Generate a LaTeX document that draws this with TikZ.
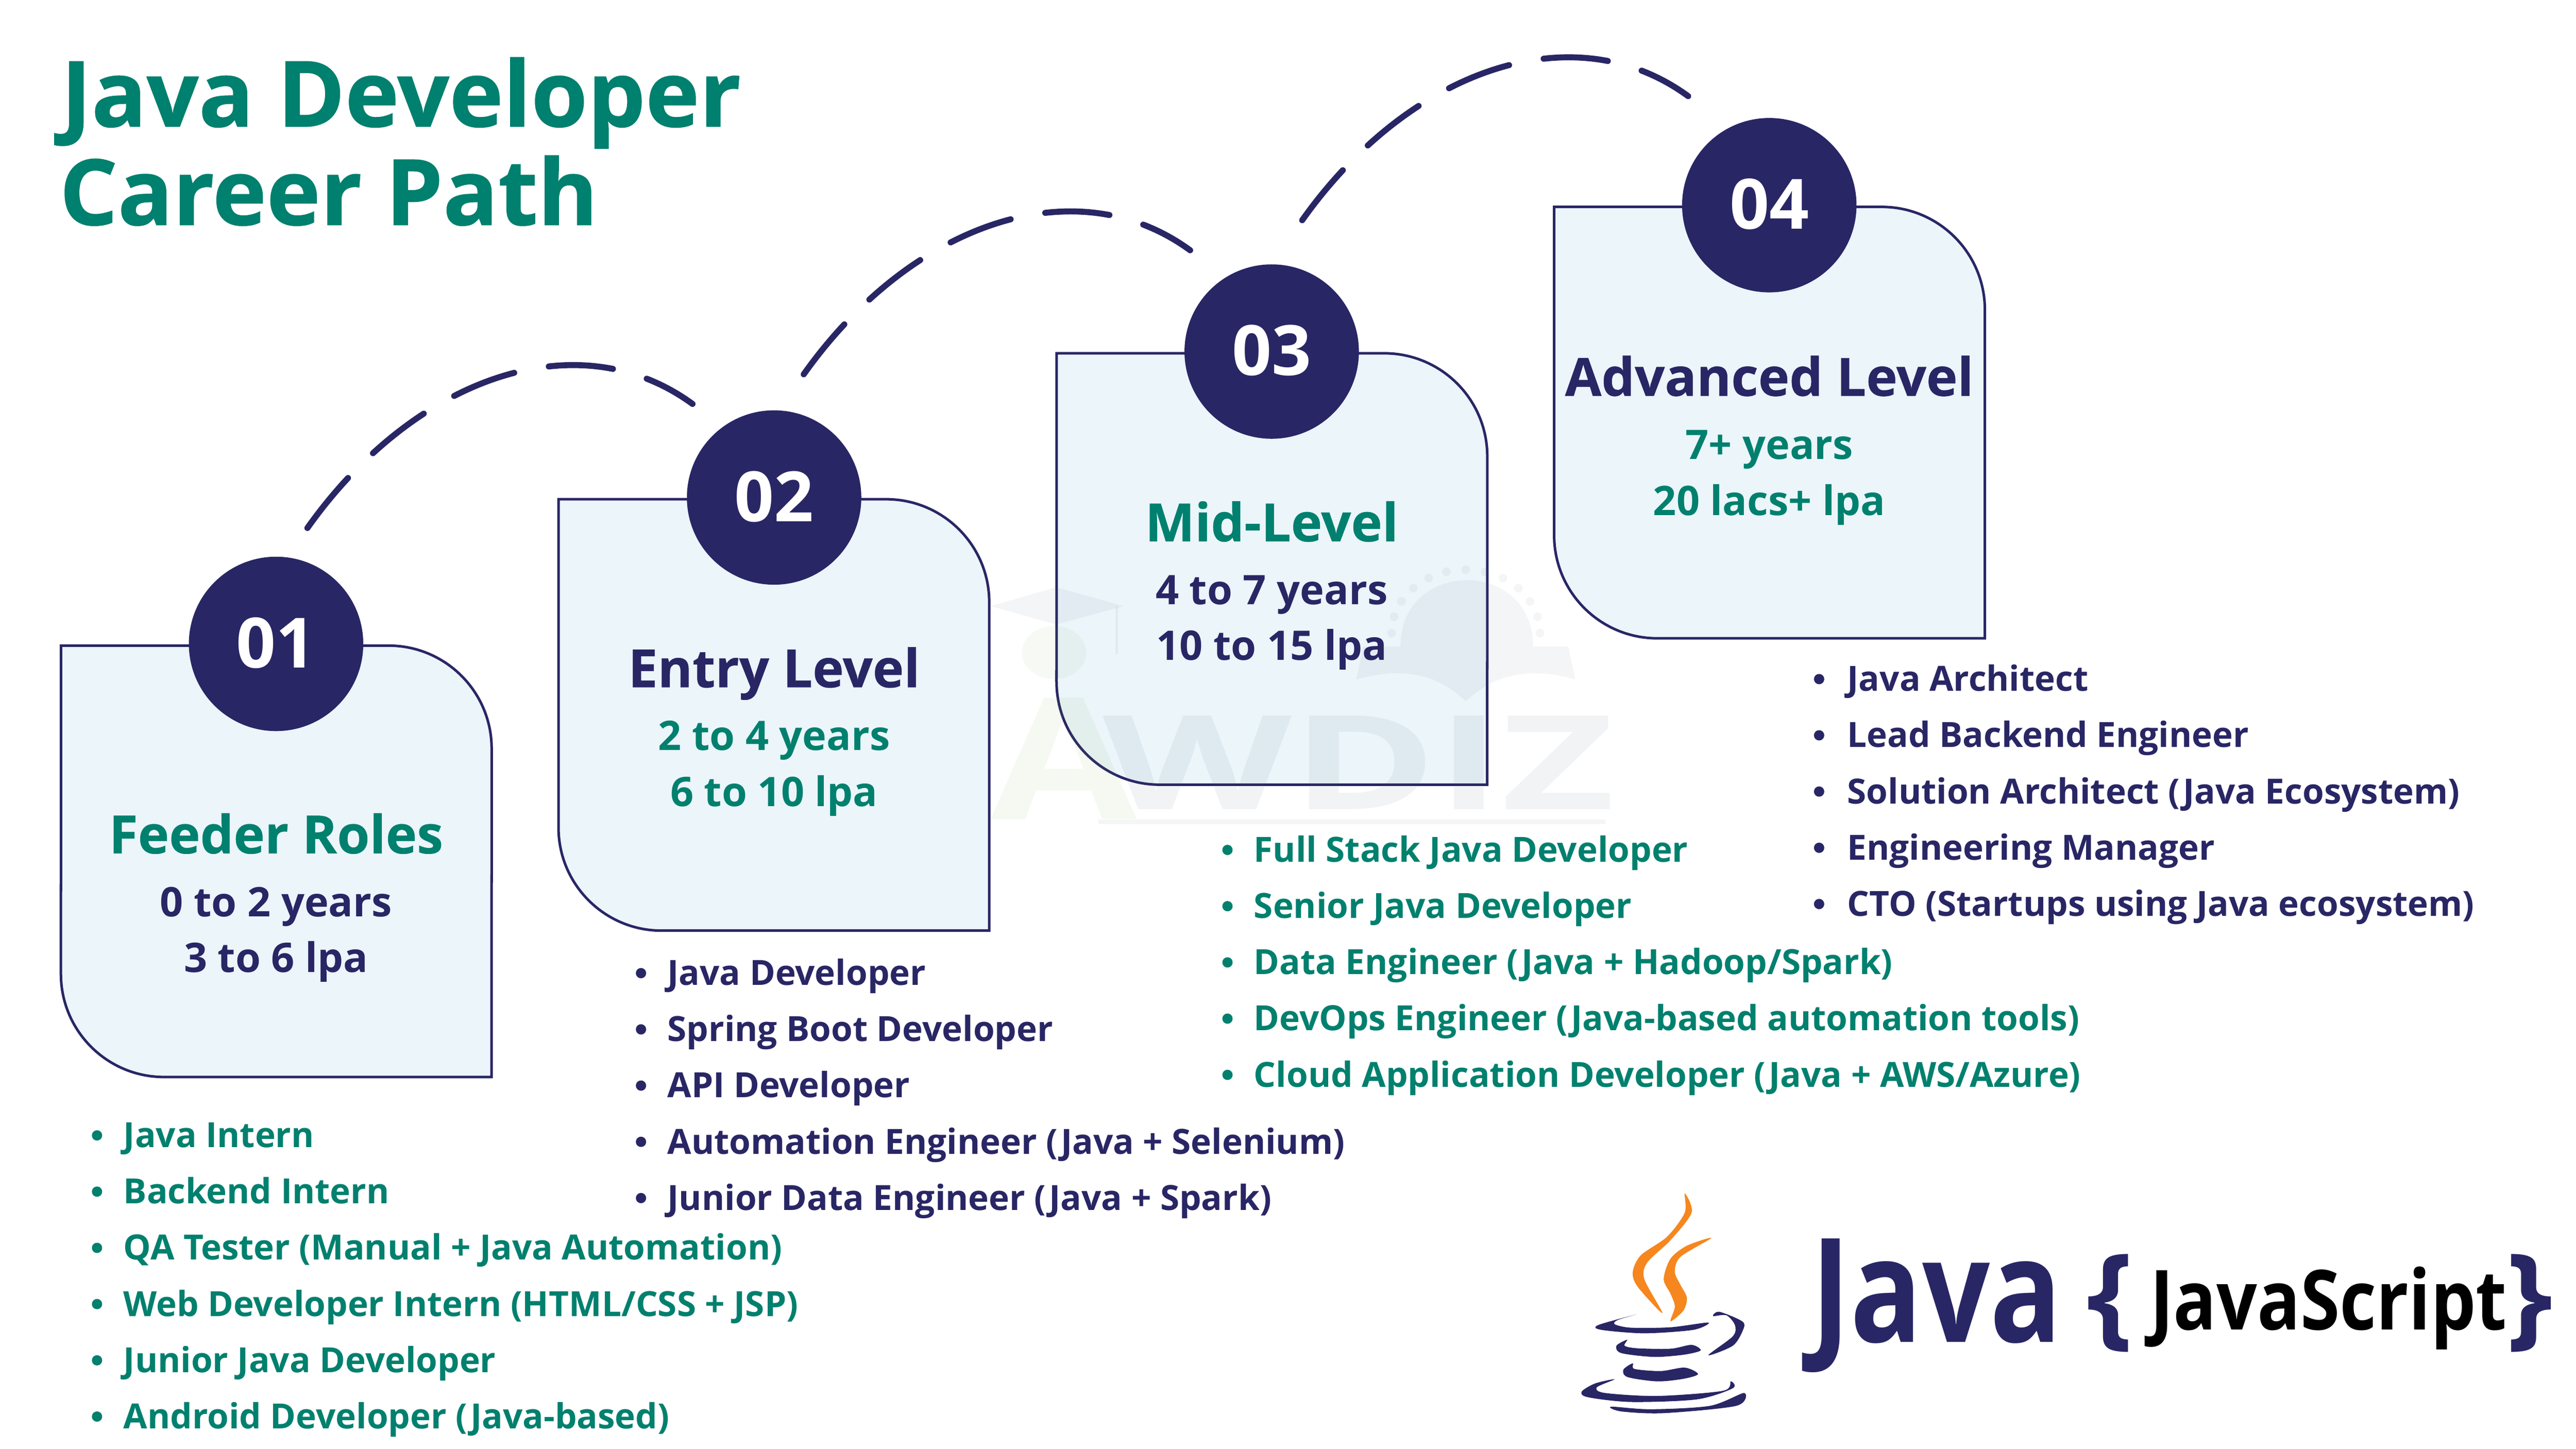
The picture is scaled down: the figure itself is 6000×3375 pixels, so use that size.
\documentclass[tikz,border=0pt]{standalone}
\usepackage{fontspec}
\setmainfont{Open Sans}
\usetikzlibrary{calc}
\definecolor{navy}{RGB}{41,38,101}
\definecolor{teal}{RGB}{0,128,110}
\definecolor{paleblue}{RGB}{235,245,250}
\definecolor{flame}{RGB}{245,135,30}
\definecolor{markgray}{RGB}{70,90,110}
\definecolor{markgreen}{RGB}{120,170,70}
\def\fsize#1{\fontsize{#1}{#1}\selectfont}
\tikzset{
	levelbox/.style={draw=navy, line width=0.06cm, fill=paleblue},
	stepcircle/.style={circle, fill=navy, text=white, minimum size=4.06cm, inner sep=0pt, font=\fsize{46}\bfseries},
	headtext/.style={anchor=base, inner sep=0pt, font=\fsize{34.9}\bfseries\addfontfeature{FakeBold=0.5}},
	subtext/.style={anchor=base, inner sep=0pt, font=\fsize{27}\bfseries},
	roletext/.style={anchor=base west, inner sep=0pt, font=\fsize{23}\bfseries},
	roledot/.style={circle, inner sep=0pt, minimum size=0.24cm},
	titletext/.style={anchor=base west, inner sep=0pt, text=teal, font=\fsize{60.5}\bfseries\addfontfeature{FakeBold=0.7}},
	pathdash/.style={draw=navy, line width=0.14cm, line cap=round, dash pattern=on 1.5cm off 0.82cm},
	markshape/.style={fill=#1, opacity=0.06},
	cuppart/.style={fill=navy}
}
\begin{document}
\begin{tikzpicture}[x=0.01cm, y=-0.01cm]
	\useasboundingbox (0,0) rectangle (6000,3375);

	\node[titletext] (title1) at (142,295) {Java Developer};
	\node[titletext] (title2) at (138,524) {Career Path};

	\foreach \n/\bx/\by in {1/142/1504, 2/1301/1163, 3/2461/823, 4/3620/482}{
		\draw[levelbox] (\bx,\by) -- (\bx+763,\by) arc (90:0:2.4cm) -- (\bx+1003,\by+1005) -- (\bx+240,\by+1005) arc (270:180:2.4cm) -- cycle;
	}

	\fill[markshape=markgray] (2308,1412) -- (2460,1368) -- (2617,1412) -- (2460,1455) -- cycle;
	\fill[markshape=markgreen] (2455,1520) ellipse (0.75cm and 0.62cm);
	\fill[markshape=markgray] (2598,1414) rectangle (2604,1524);
	\fill[markshape=markgray] (3262,1506) .. controls (3262,1300) and (3571,1300) .. (3571,1506) -- (3414,1633) -- cycle;
	\fill[markshape=markgray] (3159,1583) -- (3175,1506) -- (3262,1506) -- (3390,1613) .. controls (3320,1560) and (3240,1560) .. (3159,1583) -- cycle;
	\fill[markshape=markgray] (3669,1583) -- (3653,1506) -- (3571,1506) -- (3438,1613) .. controls (3510,1560) and (3590,1560) .. (3669,1583) -- cycle;
	\foreach \a in {0,15,...,180}{
		\fill[markshape=markgray] ({3414+173*cos(\a)},{1475-148*sin(\a)}) circle (0.1cm);
	}
	\node[anchor=base west, inner sep=0pt, opacity=0.07, font=\bfseries] (markword) at (2308,1909) {\textcolor{markgreen}{\scalebox{1.25}[1]{\fsize{112}A}}\hspace{-0.8cm}\textcolor{markgray}{\raisebox{0.23cm}{\scalebox{1.49}[1]{\fsize{87}WDIZ}}}};
	\fill[markshape=markgray] (2558,1909) rectangle (3739,1920);

	\coordinate (a1) at (716,1230);
	\coordinate (b1) at (1613,941);
	\coordinate (a2) at (1872,872);
	\coordinate (b2) at (2772,583);
	\coordinate (a3) at (3033,513);
	\coordinate (b3) at (3932,224);
	\foreach \n in {1,2,3}{
		\draw[pathdash] (a\n) .. controls +(249,-351) and +(-268,-196) .. (b\n);
	}

	\node[stepcircle] (c1) at (643,1500) {\raisebox{0.06cm}{01}};
	\node[stepcircle] (c2) at (1803,1159) {\raisebox{0.06cm}{02}};
	\node[stepcircle] (c3) at (2962,819) {\raisebox{0.06cm}{03}};
	\node[stepcircle] (c4) at (4121,478) {\raisebox{0.06cm}{04}};

	\node[headtext, text=teal] (h1) at (643,1988) {Feeder Roles};
	\node[subtext, text=navy] (s1) at (643,2135) {0 to 2 years};
	\node[subtext, text=navy] (t1) at (643,2265) {3 to 6 lpa};

	\node[headtext, text=navy] (h2) at (1803,1601) {Entry Level};
	\node[subtext, text=teal] (s2) at (1803,1748) {2 to 4 years};
	\node[subtext, text=teal] (t2) at (1803,1878) {6 to 10 lpa};

	\node[headtext, text=teal] (h3) at (2962,1261) {Mid-Level};
	\node[subtext, text=navy] (s3) at (2962,1408) {4 to 7 years};
	\node[subtext, text=navy] (t3) at (2962,1538) {10 to 15 lpa};

	\node[headtext, text=navy] (h4) at (4121,922) {Advanced Level};
	\node[subtext, text=teal] (s4) at (4121,1070) {7+ years};
	\node[subtext, text=teal] (t4) at (4121,1200) {20 lacs+ lpa};

	\foreach \role [count=\i] in {Java Intern, Backend Intern, QA Tester (Manual + Java Automation), Web Developer Intern (HTML/CSS + JSP), Junior Java Developer, Android Developer (Java-based)}{
		\node[roledot, fill=teal] (fd\i) at (226,2514+\i*131) {};
		\node[roletext, text=teal] (fr\i) at (287,2542+\i*131) {\role};
	}
	\foreach \role [count=\i] in {Java Developer, Spring Boot Developer, API Developer, Automation Engineer (Java + Selenium), Junior Data Engineer (Java + Spark)}{
		\node[roledot, fill=navy] (ed\i) at (1493,2136+\i*131) {};
		\node[roletext, text=navy] (er\i) at (1554,2164+\i*131) {\role};
	}
	\foreach \role [count=\i] in {Full Stack Java Developer, Senior Java Developer, Data Engineer (Java + Hadoop/Spark), DevOps Engineer (Java-based automation tools), Cloud Application Developer (Java + AWS/Azure)}{
		\node[roledot, fill=teal] (md\i) at (2859,1849+\i*131) {};
		\node[roletext, text=teal] (mr\i) at (2920,1877+\i*131) {\role};
	}
	\foreach \role [count=\i] in {Java Architect, Lead Backend Engineer, Solution Architect (Java Ecosystem), Engineering Manager, CTO (Startups using Java ecosystem)}{
		\node[roledot, fill=navy] (ad\i) at (4237,1451+\i*131) {};
		\node[roletext, text=navy] (ar\i) at (4302,1479+\i*131) {\role};
	}

	\fill[flame] plot[smooth cycle, tension=0.5] coordinates {(3924,2780) (3940,2825) (3891,2889) (3837,2941) (3830,2980) (3872,3059) (3814,2997) (3803,2963) (3822,2924) (3883,2881) (3924,2825)};
	\fill[flame] plot[smooth cycle, tension=0.5] coordinates {(3986,2884) (3914,2928) (3901,2963) (3914,2993) (3929,3023) (3921,3053) (3891,3078) (3901,3044) (3891,3014) (3875,2980) (3891,2932) (3929,2902)};
	\fill[cuppart] plot[smooth cycle, tension=0.5] coordinates {(3811,3062) (3722,3087) (3730,3098) (3830,3106) (3944,3098) (3979,3081) (3891,3092) (3799,3093) (3761,3085) (3768,3075)};
	\fill[cuppart] plot[smooth cycle, tension=0.5] coordinates {(4005,3056) (4059,3079) (4059,3100) (4036,3135) (3979,3157) (4036,3113) (4041,3087) (4021,3064) (3990,3066)};
	\fill[cuppart] plot[smooth cycle, tension=0.5] coordinates {(3790,3121) (3765,3135) (3776,3152) (3852,3161) (3921,3156) (3961,3146) (3940,3133) (3891,3142) (3814,3141) (3784,3135)};
	\fill[cuppart] plot[smooth cycle, tension=0.5] coordinates {(3803,3176) (3781,3191) (3791,3208) (3860,3218) (3921,3212) (3955,3201) (3924,3186) (3868,3194) (3807,3189)};
	\fill[cuppart] plot[smooth cycle, tension=0.5] coordinates {(3761,3213) (3715,3223) (3684,3242) (3699,3255) (3799,3266) (3952,3260) (4036,3234) (4031,3218) (4013,3240) (3860,3252) (3738,3245) (3719,3232)};
	\fill[cuppart] plot[smooth cycle, tension=0.5] coordinates {(3753,3277) (3845,3283) (3983,3275) (4062,3245) (4044,3275) (3875,3292) (3776,3288)};

	\node[anchor=base west, inner sep=0pt, text=navy, transform shape, xscale=0.82, font=\fsize{96}\bfseries] (javaword) at (4218,3126) {Java};
	\node[anchor=center, inner sep=0pt, text=navy, transform shape, xscale=1.25, yscale=1.2, font=\fsize{62}\bfseries] (lbrace) at (4914,3036) {\{};
	\node[anchor=center, inner sep=0pt, text=navy, transform shape, xscale=1.25, yscale=1.2, font=\fsize{62}\bfseries] (rbrace) at (5892,3036) {\}};
	\node[anchor=base west, inner sep=0pt, text=black, transform shape, xscale=0.86, font=\fsize{55}\bfseries] (jsword) at (5007,3098) {JavaScript};
\end{tikzpicture}
\end{document}
